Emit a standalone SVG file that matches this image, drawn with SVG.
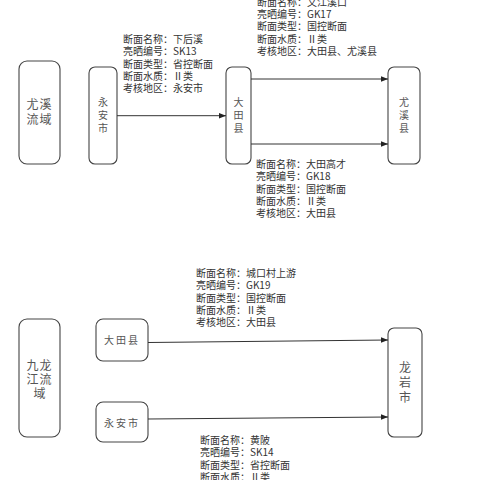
<svg xmlns="http://www.w3.org/2000/svg" width="480" height="480" viewBox="0 0 480 480">
<defs>
<marker id="ah" viewBox="0 0 10 10" refX="10" refY="5" markerWidth="7" markerHeight="7" markerUnits="userSpaceOnUse" orient="auto"><path d="M0,1 L10,5 L0,9 z" fill="#222"/></marker>
<style>
.box{fill:#fff;stroke:#444;stroke-width:1.1}
.lbl{font-family:"Noto Sans CJK SC","Noto Sans",sans-serif;fill:#555;text-anchor:middle}
.info{font-family:"Noto Sans CJK SC","Noto Sans",sans-serif;font-size:10px;fill:#333}
.edge{stroke:#333;stroke-width:1;fill:none;marker-end:url(#ah)}
</style>
</defs>
<rect width="480" height="480" fill="#fff"/>
<g id="n-youxi-basin"><rect class="box" x="19" y="61" width="41" height="103" rx="8"/><text class="lbl" font-size="12" x="39.5" y="109" letter-spacing="1">尤溪</text><text class="lbl" font-size="12" x="39.5" y="124" letter-spacing="1">流域</text></g>
<g id="n-yongan1"><rect class="box" x="89" y="67" width="28" height="97" rx="6"/><text class="lbl" font-size="10" x="103" y="106">永</text><text class="lbl" font-size="10" x="103" y="119">安</text><text class="lbl" font-size="10" x="103" y="132">市</text></g>
<g id="n-datian1"><rect class="box" x="226" y="67" width="25" height="97" rx="6"/><text class="lbl" font-size="10" x="238.5" y="106">大</text><text class="lbl" font-size="10" x="238.5" y="119">田</text><text class="lbl" font-size="10" x="238.5" y="132">县</text></g>
<g id="n-youxixian"><rect class="box" x="388" y="67" width="32" height="97" rx="6"/><text class="lbl" font-size="10" x="404" y="106">尤</text><text class="lbl" font-size="10" x="404" y="119">溪</text><text class="lbl" font-size="10" x="404" y="132">县</text></g>
<g id="n-jiulong-basin"><rect class="box" x="19" y="319" width="41" height="118" rx="8"/><text class="lbl" font-size="12" x="39.5" y="370" letter-spacing="1">九龙</text><text class="lbl" font-size="12" x="39.5" y="384" letter-spacing="1">江流</text><text class="lbl" font-size="12" x="39.5" y="398">域</text></g>
<g id="n-datian2"><rect class="box" x="96" y="319" width="52" height="42" rx="7"/><text class="lbl" font-size="10" x="122" y="344" letter-spacing="2">大田县</text></g>
<g id="n-yongan2"><rect class="box" x="96" y="402" width="52" height="40" rx="7"/><text class="lbl" font-size="10" x="122" y="427" letter-spacing="2">永安市</text></g>
<g id="n-longyan"><rect class="box" x="388" y="328" width="34" height="109" rx="6"/><text class="lbl" font-size="12" x="405" y="372">龙</text><text class="lbl" font-size="12" x="405" y="387">岩</text><text class="lbl" font-size="12" x="405" y="402">市</text></g>
<g id="edges">
<line class="edge" x1="117" y1="115.7" x2="226" y2="115.7"/>
<line class="edge" x1="251" y1="79" x2="388" y2="79"/>
<line class="edge" x1="251" y1="144" x2="388" y2="144"/>
<line class="edge" x1="148" y1="342.5" x2="388" y2="340"/>
<line class="edge" x1="148" y1="419" x2="388" y2="417"/>
</g>
<g id="labels">
<text class="info" x="123"><tspan x="123" y="43">断面名称：下后溪</tspan><tspan x="123" y="55.3">亮晒编号：SK13</tspan><tspan x="123" y="67.6">断面类型：省控断面</tspan><tspan x="123" y="79.9">断面水质：Ⅱ类</tspan><tspan x="123" y="92.2">考核地区：永安市</tspan></text>
<text class="info" x="257"><tspan x="257" y="5.7">断面名称：文江溪口</tspan><tspan x="257" y="18">亮晒编号：GK17</tspan><tspan x="257" y="30.3">断面类型：国控断面</tspan><tspan x="257" y="42.6">断面水质：Ⅱ类</tspan><tspan x="257" y="54.9">考核地区：大田县、尤溪县</tspan></text>
<text class="info" x="256"><tspan x="256" y="168">断面名称：大田高才</tspan><tspan x="256" y="180.3">亮晒编号：GK18</tspan><tspan x="256" y="192.6">断面类型：国控断面</tspan><tspan x="256" y="204.9">断面水质：Ⅱ类</tspan><tspan x="256" y="217.2">考核地区：大田县</tspan></text>
<text class="info" x="196"><tspan x="196" y="277">断面名称：城口村上游</tspan><tspan x="196" y="289.3">亮晒编号：GK19</tspan><tspan x="196" y="301.6">断面类型：国控断面</tspan><tspan x="196" y="313.9">断面水质：Ⅱ类</tspan><tspan x="196" y="326.2">考核地区：大田县</tspan></text>
<text class="info" x="200"><tspan x="200" y="444">断面名称：黄陂</tspan><tspan x="200" y="456.3">亮晒编号：SK14</tspan><tspan x="200" y="468.6">断面类型：省控断面</tspan><tspan x="200" y="480.9">断面水质：Ⅱ类</tspan></text>
</g>
</svg>
